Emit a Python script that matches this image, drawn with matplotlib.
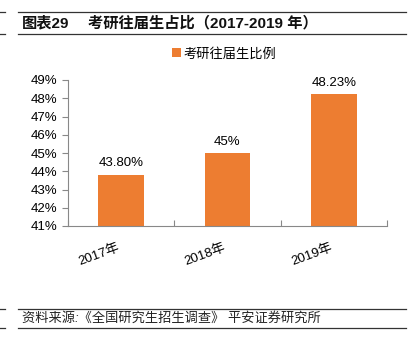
import matplotlib.pyplot as plt
from matplotlib.lines import Line2D

plt.rcParams['font.family'] = ['Liberation Sans', 'Noto Sans CJK SC', 'DejaVu Sans']

# 데이터
years = ['2017年', '2018年', '2019年']
ratios = [43.80, 45.0, 48.23]
labels = ['43.80%', '45%', '48.23%']
yticks = [41, 42, 43, 44, 45, 46, 47, 48, 49]

color = '#ED7D31'

fig = plt.figure(figsize=(4.16, 3.48), dpi=100)
W, H = 416, 348

def fx(px):
    return px / W

def fy(py):
    return 1 - py / H

# 제목 및 테두리 선
for y in (12, 34, 309, 328):
    fig.add_artist(Line2D([fx(18), fx(406)], [fy(y), fy(y)], color='#333333', lw=0.9))
    fig.add_artist(Line2D([0, fx(5)], [fy(y), fy(y)], color='#333333', lw=0.9))

fig.text(fx(22), fy(23), '图表29', fontsize=11, fontweight='bold', va='center', color='#111111')
fig.text(fx(88), fy(23), '考研往届生占比（2017-2019 年）', fontsize=11, fontweight='bold',
         va='center', color='#111111')
fig.text(fx(22), fy(318), '资料来源:《全国研究生招生调查》 平安证券研究所', fontsize=9.5,
         style='italic', va='center', color='#222222')

# 그래프
ax = fig.add_axes([fx(68), fy(226), fx(387) - fx(68), fy(80) - fy(226)])
x = range(len(years))
bars = ax.bar(x, ratios, width=0.43, color=color, label='考研往届生比例', bottom=0)
ax.set_ylim(41, 49)
ax.set_xlim(-0.5, 2.5)
ax.set_yticks(yticks)
ax.set_yticklabels([f'{v}%' for v in yticks], fontsize=9.5)
ax.set_xticks([-0.5, 0.5, 1.5, 2.5], minor=False)
ax.set_xticklabels([])
ax.set_xticks(list(x), minor=True)
ax.set_xticklabels(years, minor=True, rotation=20, ha='right', fontsize=9.5)
ax.tick_params(axis='x', which='minor', length=0, pad=11)
ax.tick_params(axis='x', which='major', length=4, direction='in', color='#888888')
ax.tick_params(axis='y', length=4, color='#888888')

for s in ('top', 'right'):
    ax.spines[s].set_visible(False)
ax.spines['left'].set_color('#888888')
ax.spines['bottom'].set_color('#888888')

for xi, v, t in zip(x, ratios, labels):
    ax.text(xi, v + 0.3, t, ha='center', va='bottom', fontsize=9.5)

fig.legend(handles=[bars], loc='center', bbox_to_anchor=(fx(224), fy(54)), frameon=False,
           fontsize=9.5, handlelength=0.7, handleheight=0.7, handletextpad=0.2)

fig.savefig('out.png', dpi=100)
